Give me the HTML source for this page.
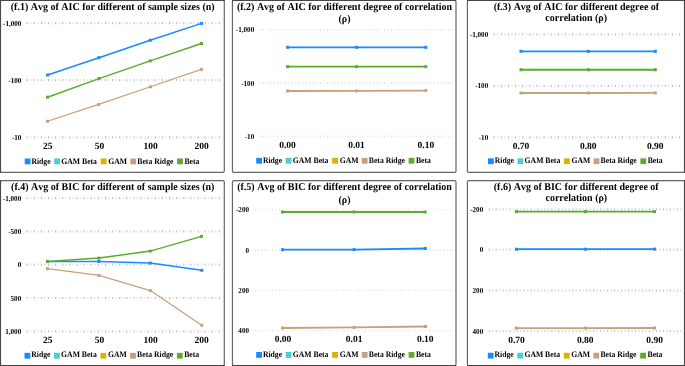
<!DOCTYPE html><html><head><meta charset="utf-8"><style>html,body{margin:0;padding:0;background:#fff;}svg{display:block;will-change:transform;}text{font-family:"Liberation Serif",serif;text-rendering:geometricPrecision;font-kerning:none;}</style></head><body>
<svg width="685" height="366" viewBox="0 0 685 366">
<rect width="685" height="366" fill="#fff"/>
<rect x="0.5" y="0.5" width="223.80" height="171.90" rx="1.3" ry="1.3" fill="#fff" stroke="#666666" stroke-width="1.2"/>
<rect x="232.45" y="0.5" width="223.55" height="171.90" rx="1.3" ry="1.3" fill="#fff" stroke="#666666" stroke-width="1.2"/>
<rect x="467.4" y="0.5" width="217.10" height="171.90" rx="1.3" ry="1.3" fill="#fff" stroke="#666666" stroke-width="1.2"/>
<rect x="0.5" y="180.6" width="223.80" height="184.90" rx="1.3" ry="1.3" fill="#fff" stroke="#666666" stroke-width="1.2"/>
<rect x="232.45" y="180.6" width="223.55" height="184.90" rx="1.3" ry="1.3" fill="#fff" stroke="#666666" stroke-width="1.2"/>
<rect x="467.4" y="180.6" width="217.10" height="184.90" rx="1.3" ry="1.3" fill="#fff" stroke="#666666" stroke-width="1.2"/>
<rect x="0" y="0" width="225" height="1" fill="#464646"/>
<rect x="0" y="365" width="225" height="1" fill="#464646"/>
<rect x="232" y="0" width="224" height="1" fill="#464646"/>
<rect x="232" y="365" width="224" height="1" fill="#464646"/>
<rect x="467" y="0" width="218" height="1" fill="#464646"/>
<rect x="467" y="365" width="218" height="1" fill="#464646"/>
<rect x="0" y="0" width="1" height="173" fill="#4a4a4a"/>
<rect x="0" y="180" width="1" height="186" fill="#4a4a4a"/>
<rect x="684" y="0" width="1" height="173" fill="#4a4a4a"/>
<rect x="684" y="180" width="1" height="186" fill="#4a4a4a"/>
<text transform="translate(112.70,10.30) scale(1,1.05)" font-size="10.0" text-anchor="middle" font-weight="bold" fill="#000">(f.1) Avg of AIC for different of sample sizes (n)</text>
<line x1="26.60" y1="23.2" x2="220" y2="23.2" stroke="#bdbdbd" stroke-width="2.2" stroke-dasharray="1.1 6.020"/>
<line x1="29.80" y1="23.2" x2="220" y2="23.2" stroke="#ebebeb" stroke-width="2.2" stroke-dasharray="1.8 5.320"/>
<line x1="26.60" y1="80.2" x2="220" y2="80.2" stroke="#bdbdbd" stroke-width="2.2" stroke-dasharray="1.1 6.020"/>
<line x1="29.80" y1="80.2" x2="220" y2="80.2" stroke="#ebebeb" stroke-width="2.2" stroke-dasharray="1.8 5.320"/>
<line x1="26.60" y1="137.3" x2="220" y2="137.3" stroke="#bdbdbd" stroke-width="2.2" stroke-dasharray="1.1 6.020"/>
<line x1="29.80" y1="137.3" x2="220" y2="137.3" stroke="#ebebeb" stroke-width="2.2" stroke-dasharray="1.8 5.320"/>
<text transform="translate(21.40,25.75) scale(1,1.07)" font-size="7.1" text-anchor="end" font-weight="bold" fill="#000">-1,000</text>
<text transform="translate(21.40,82.75) scale(1,1.07)" font-size="7.1" text-anchor="end" font-weight="bold" fill="#000">-100</text>
<text transform="translate(21.40,139.85) scale(1,1.07)" font-size="7.1" text-anchor="end" font-weight="bold" fill="#000">-10</text>
<text x="47.85" y="149.40" font-size="9.5" text-anchor="middle" font-weight="bold" fill="#000">25</text>
<text x="99.50" y="149.40" font-size="9.5" text-anchor="middle" font-weight="bold" fill="#000">50</text>
<text x="150.50" y="149.40" font-size="9.5" text-anchor="middle" font-weight="bold" fill="#000">100</text>
<text x="201.50" y="149.40" font-size="9.5" text-anchor="middle" font-weight="bold" fill="#000">200</text>
<polyline points="47.50,121.30 98.70,104.40 150.50,86.80 201.40,69.40" fill="none" stroke="#c9a07c" stroke-width="1.2" stroke-linejoin="round"/>
<rect x="46.00" y="119.80" width="3" height="3" fill="#c9a07c"/>
<rect x="97.20" y="102.90" width="3" height="3" fill="#c9a07c"/>
<rect x="149.00" y="85.30" width="3" height="3" fill="#c9a07c"/>
<rect x="199.90" y="67.90" width="3" height="3" fill="#c9a07c"/>
<polyline points="47.50,97.20 99.00,78.60 150.20,60.90 201.50,43.50" fill="none" stroke="#5aab2e" stroke-width="1.5" stroke-linejoin="round"/>
<rect x="46.00" y="95.70" width="3" height="3" fill="#5aab2e"/>
<rect x="97.50" y="77.10" width="3" height="3" fill="#5aab2e"/>
<rect x="148.70" y="59.40" width="3" height="3" fill="#5aab2e"/>
<rect x="200.00" y="42.00" width="3" height="3" fill="#5aab2e"/>
<polyline points="47.60,75.00 98.90,57.70 150.20,40.30 201.50,23.40" fill="none" stroke="#178bff" stroke-width="1.5" stroke-linejoin="round"/>
<rect x="46.10" y="73.50" width="3" height="3" fill="#178bff"/>
<rect x="97.40" y="56.20" width="3" height="3" fill="#178bff"/>
<rect x="148.70" y="38.80" width="3" height="3" fill="#178bff"/>
<rect x="200.00" y="21.90" width="3" height="3" fill="#178bff"/>
<rect x="24.70" y="158.50" width="5.8" height="5.8" fill="#178bff"/>
<text transform="translate(31.40,163.60) scale(1,1.08)" font-size="7.7" text-anchor="start" font-weight="bold" fill="#000">Ridge</text>
<rect x="54.20" y="158.50" width="5.8" height="5.8" fill="#47ced6"/>
<text transform="translate(61.30,163.60) scale(1,1.08)" font-size="7.7" text-anchor="start" font-weight="bold" fill="#000">GAM Beta</text>
<rect x="100.70" y="158.50" width="5.8" height="5.8" fill="#dab200"/>
<text transform="translate(108.20,163.60) scale(1,1.08)" font-size="7.7" text-anchor="start" font-weight="bold" fill="#000">GAM</text>
<rect x="130.30" y="158.50" width="5.8" height="5.8" fill="#c9a07c"/>
<text transform="translate(137.30,163.60) scale(1,1.08)" font-size="7.7" text-anchor="start" font-weight="bold" fill="#000">Beta Ridge</text>
<rect x="177.10" y="158.50" width="5.8" height="5.8" fill="#5aab2e"/>
<text transform="translate(184.40,163.60) scale(1,1.08)" font-size="7.7" text-anchor="start" font-weight="bold" fill="#000">Beta</text>
<text transform="translate(344.50,10.30) scale(1,1.05)" font-size="10.0" text-anchor="middle" font-weight="bold" fill="#000">(f.2) Avg of AIC for different degree of correlation</text>
<text transform="translate(344.50,22.40) scale(1,1.05)" font-size="10.0" text-anchor="middle" font-weight="bold" fill="#000">(ρ)</text>
<line x1="262.85" y1="29.9" x2="453.5" y2="29.9" stroke="#e0e0e0" stroke-width="1.8" stroke-dasharray="1.1 6.030"/>
<line x1="258.95" y1="29.9" x2="453.5" y2="29.9" stroke="#f1f1f1" stroke-width="1.8" stroke-dasharray="1.8 5.330"/>
<line x1="262.85" y1="83.0" x2="453.5" y2="83.0" stroke="#e0e0e0" stroke-width="1.8" stroke-dasharray="1.1 6.030"/>
<line x1="258.95" y1="83.0" x2="453.5" y2="83.0" stroke="#f1f1f1" stroke-width="1.8" stroke-dasharray="1.8 5.330"/>
<line x1="262.85" y1="136.3" x2="453.5" y2="136.3" stroke="#e0e0e0" stroke-width="1.8" stroke-dasharray="1.1 6.030"/>
<line x1="258.95" y1="136.3" x2="453.5" y2="136.3" stroke="#f1f1f1" stroke-width="1.8" stroke-dasharray="1.8 5.330"/>
<text transform="translate(254.20,32.45) scale(1,1.07)" font-size="7.1" text-anchor="end" font-weight="bold" fill="#000">-1,000</text>
<text transform="translate(254.20,85.55) scale(1,1.07)" font-size="7.1" text-anchor="end" font-weight="bold" fill="#000">-100</text>
<text transform="translate(254.20,138.85) scale(1,1.07)" font-size="7.1" text-anchor="end" font-weight="bold" fill="#000">-10</text>
<text x="287.50" y="147.90" font-size="9.5" text-anchor="middle" font-weight="bold" fill="#000">0.00</text>
<text x="356.50" y="147.90" font-size="9.5" text-anchor="middle" font-weight="bold" fill="#000">0.01</text>
<text x="425.90" y="147.90" font-size="9.5" text-anchor="middle" font-weight="bold" fill="#000">0.10</text>
<polyline points="287.60,91.00 356.60,90.90 425.80,90.60" fill="none" stroke="#c9a07c" stroke-width="1.8" stroke-linejoin="round"/>
<rect x="286.10" y="89.50" width="3" height="3" fill="#c9a07c"/>
<rect x="355.10" y="89.40" width="3" height="3" fill="#c9a07c"/>
<rect x="424.30" y="89.10" width="3" height="3" fill="#c9a07c"/>
<polyline points="287.60,66.70 356.60,66.70 425.80,66.70" fill="none" stroke="#5aab2e" stroke-width="1.8" stroke-linejoin="round"/>
<rect x="286.10" y="65.20" width="3" height="3" fill="#5aab2e"/>
<rect x="355.10" y="65.20" width="3" height="3" fill="#5aab2e"/>
<rect x="424.30" y="65.20" width="3" height="3" fill="#5aab2e"/>
<polyline points="287.60,47.30 356.60,47.30 425.80,47.30" fill="none" stroke="#178bff" stroke-width="1.8" stroke-linejoin="round"/>
<rect x="286.10" y="45.80" width="3" height="3" fill="#178bff"/>
<rect x="355.10" y="45.80" width="3" height="3" fill="#178bff"/>
<rect x="424.30" y="45.80" width="3" height="3" fill="#178bff"/>
<rect x="256.20" y="157.85" width="5.8" height="5.8" fill="#178bff"/>
<text transform="translate(262.90,162.95) scale(1,1.08)" font-size="7.7" text-anchor="start" font-weight="bold" fill="#000">Ridge</text>
<rect x="285.70" y="157.85" width="5.8" height="5.8" fill="#47ced6"/>
<text transform="translate(292.80,162.95) scale(1,1.08)" font-size="7.7" text-anchor="start" font-weight="bold" fill="#000">GAM Beta</text>
<rect x="332.20" y="157.85" width="5.8" height="5.8" fill="#dab200"/>
<text transform="translate(339.70,162.95) scale(1,1.08)" font-size="7.7" text-anchor="start" font-weight="bold" fill="#000">GAM</text>
<rect x="361.80" y="157.85" width="5.8" height="5.8" fill="#c9a07c"/>
<text transform="translate(368.80,162.95) scale(1,1.08)" font-size="7.7" text-anchor="start" font-weight="bold" fill="#000">Beta Ridge</text>
<rect x="408.60" y="157.85" width="5.8" height="5.8" fill="#5aab2e"/>
<text transform="translate(415.90,162.95) scale(1,1.08)" font-size="7.7" text-anchor="start" font-weight="bold" fill="#000">Beta</text>
<text transform="translate(576.40,10.00) scale(1,1.05)" font-size="10.0" text-anchor="middle" font-weight="bold" fill="#000">(f.3) Avg of AIC for different degree of</text>
<text transform="translate(576.20,21.20) scale(1,1.05)" font-size="10.0" text-anchor="middle" font-weight="bold" fill="#000">correlation (ρ)</text>
<line x1="493.65" y1="34.3" x2="680.2" y2="34.3" stroke="#bdbdbd" stroke-width="2.2" stroke-dasharray="1.1 6.030"/>
<line x1="496.87" y1="34.3" x2="680.2" y2="34.3" stroke="#ebebeb" stroke-width="2.2" stroke-dasharray="1.8 5.330"/>
<line x1="493.65" y1="85.8" x2="680.2" y2="85.8" stroke="#bdbdbd" stroke-width="2.2" stroke-dasharray="1.1 6.030"/>
<line x1="496.87" y1="85.8" x2="680.2" y2="85.8" stroke="#ebebeb" stroke-width="2.2" stroke-dasharray="1.8 5.330"/>
<line x1="493.65" y1="137.4" x2="680.2" y2="137.4" stroke="#bdbdbd" stroke-width="2.2" stroke-dasharray="1.1 6.030"/>
<line x1="496.87" y1="137.4" x2="680.2" y2="137.4" stroke="#ebebeb" stroke-width="2.2" stroke-dasharray="1.8 5.330"/>
<text transform="translate(488.20,36.65) scale(1,1.07)" font-size="7.1" text-anchor="end" font-weight="bold" fill="#000">-1,000</text>
<text transform="translate(488.20,88.25) scale(1,1.07)" font-size="7.1" text-anchor="end" font-weight="bold" fill="#000">-100</text>
<text transform="translate(488.20,139.85) scale(1,1.07)" font-size="7.1" text-anchor="end" font-weight="bold" fill="#000">-10</text>
<text x="521.00" y="148.90" font-size="9.5" text-anchor="middle" font-weight="bold" fill="#000">0.70</text>
<text x="588.20" y="148.90" font-size="9.5" text-anchor="middle" font-weight="bold" fill="#000">0.80</text>
<text x="655.30" y="148.90" font-size="9.5" text-anchor="middle" font-weight="bold" fill="#000">0.90</text>
<polyline points="521.00,93.00 588.40,93.00 655.30,92.90" fill="none" stroke="#c9a07c" stroke-width="1.8" stroke-linejoin="round"/>
<rect x="519.50" y="91.50" width="3" height="3" fill="#c9a07c"/>
<rect x="586.90" y="91.50" width="3" height="3" fill="#c9a07c"/>
<rect x="653.80" y="91.40" width="3" height="3" fill="#c9a07c"/>
<polyline points="521.00,69.75 588.40,69.75 655.30,69.75" fill="none" stroke="#5aab2e" stroke-width="1.8" stroke-linejoin="round"/>
<rect x="519.50" y="68.25" width="3" height="3" fill="#5aab2e"/>
<rect x="586.90" y="68.25" width="3" height="3" fill="#5aab2e"/>
<rect x="653.80" y="68.25" width="3" height="3" fill="#5aab2e"/>
<polyline points="521.00,51.30 588.40,51.30 655.30,51.30" fill="none" stroke="#178bff" stroke-width="1.8" stroke-linejoin="round"/>
<rect x="519.50" y="49.80" width="3" height="3" fill="#178bff"/>
<rect x="586.90" y="49.80" width="3" height="3" fill="#178bff"/>
<rect x="653.80" y="49.80" width="3" height="3" fill="#178bff"/>
<rect x="488.00" y="158.35" width="5.8" height="5.8" fill="#178bff"/>
<text transform="translate(494.70,163.45) scale(1,1.08)" font-size="7.7" text-anchor="start" font-weight="bold" fill="#000">Ridge</text>
<rect x="517.50" y="158.35" width="5.8" height="5.8" fill="#47ced6"/>
<text transform="translate(524.60,163.45) scale(1,1.08)" font-size="7.7" text-anchor="start" font-weight="bold" fill="#000">GAM Beta</text>
<rect x="564.00" y="158.35" width="5.8" height="5.8" fill="#dab200"/>
<text transform="translate(571.50,163.45) scale(1,1.08)" font-size="7.7" text-anchor="start" font-weight="bold" fill="#000">GAM</text>
<rect x="593.60" y="158.35" width="5.8" height="5.8" fill="#c9a07c"/>
<text transform="translate(600.60,163.45) scale(1,1.08)" font-size="7.7" text-anchor="start" font-weight="bold" fill="#000">Beta Ridge</text>
<rect x="640.40" y="158.35" width="5.8" height="5.8" fill="#5aab2e"/>
<text transform="translate(647.70,163.45) scale(1,1.08)" font-size="7.7" text-anchor="start" font-weight="bold" fill="#000">Beta</text>
<text transform="translate(112.70,189.60) scale(1,1.05)" font-size="10.0" text-anchor="middle" font-weight="bold" fill="#000">(f.4) Avg of BIC for different of sample sizes (n)</text>
<line x1="26.60" y1="198.1" x2="220" y2="198.1" stroke="#bdbdbd" stroke-width="2.2" stroke-dasharray="1.1 6.020"/>
<line x1="29.80" y1="198.1" x2="220" y2="198.1" stroke="#ebebeb" stroke-width="2.2" stroke-dasharray="1.8 5.320"/>
<line x1="26.60" y1="231.4" x2="220" y2="231.4" stroke="#bdbdbd" stroke-width="2.2" stroke-dasharray="1.1 6.020"/>
<line x1="29.80" y1="231.4" x2="220" y2="231.4" stroke="#ebebeb" stroke-width="2.2" stroke-dasharray="1.8 5.320"/>
<line x1="26.60" y1="264.7" x2="220" y2="264.7" stroke="#bdbdbd" stroke-width="2.2" stroke-dasharray="1.1 6.020"/>
<line x1="29.80" y1="264.7" x2="220" y2="264.7" stroke="#ebebeb" stroke-width="2.2" stroke-dasharray="1.8 5.320"/>
<line x1="26.60" y1="298.0" x2="220" y2="298.0" stroke="#bdbdbd" stroke-width="2.2" stroke-dasharray="1.1 6.020"/>
<line x1="29.80" y1="298.0" x2="220" y2="298.0" stroke="#ebebeb" stroke-width="2.2" stroke-dasharray="1.8 5.320"/>
<line x1="26.60" y1="331.3" x2="220" y2="331.3" stroke="#bdbdbd" stroke-width="2.2" stroke-dasharray="1.1 6.020"/>
<line x1="29.80" y1="331.3" x2="220" y2="331.3" stroke="#ebebeb" stroke-width="2.2" stroke-dasharray="1.8 5.320"/>
<text transform="translate(21.20,200.65) scale(1,1.07)" font-size="7.1" text-anchor="end" font-weight="bold" fill="#000">-1,000</text>
<text transform="translate(21.20,233.95) scale(1,1.07)" font-size="7.1" text-anchor="end" font-weight="bold" fill="#000">-500</text>
<text transform="translate(21.20,267.25) scale(1,1.07)" font-size="7.1" text-anchor="end" font-weight="bold" fill="#000">0</text>
<text transform="translate(21.20,300.55) scale(1,1.07)" font-size="7.1" text-anchor="end" font-weight="bold" fill="#000">500</text>
<text transform="translate(21.20,333.85) scale(1,1.07)" font-size="7.1" text-anchor="end" font-weight="bold" fill="#000">1,000</text>
<text x="47.85" y="342.70" font-size="9.5" text-anchor="middle" font-weight="bold" fill="#000">25</text>
<text x="99.50" y="342.70" font-size="9.5" text-anchor="middle" font-weight="bold" fill="#000">50</text>
<text x="150.50" y="342.70" font-size="9.5" text-anchor="middle" font-weight="bold" fill="#000">100</text>
<text x="201.50" y="342.70" font-size="9.5" text-anchor="middle" font-weight="bold" fill="#000">200</text>
<polyline points="47.50,268.70 98.90,275.40 150.40,290.60 201.80,325.20" fill="none" stroke="#c9a07c" stroke-width="1.2" stroke-linejoin="round"/>
<rect x="46.00" y="267.20" width="3" height="3" fill="#c9a07c"/>
<rect x="97.40" y="273.90" width="3" height="3" fill="#c9a07c"/>
<rect x="148.90" y="289.10" width="3" height="3" fill="#c9a07c"/>
<rect x="200.30" y="323.70" width="3" height="3" fill="#c9a07c"/>
<polyline points="47.50,261.40 98.90,261.40 150.30,263.10 201.80,270.30" fill="none" stroke="#178bff" stroke-width="1.5" stroke-linejoin="round"/>
<rect x="46.00" y="259.90" width="3" height="3" fill="#178bff"/>
<rect x="97.40" y="259.90" width="3" height="3" fill="#178bff"/>
<rect x="148.80" y="261.60" width="3" height="3" fill="#178bff"/>
<rect x="200.30" y="268.80" width="3" height="3" fill="#178bff"/>
<polyline points="47.50,261.40 98.90,258.10 150.20,251.10 201.50,236.40" fill="none" stroke="#5aab2e" stroke-width="1.5" stroke-linejoin="round"/>
<rect x="46.00" y="259.90" width="3" height="3" fill="#5aab2e"/>
<rect x="97.40" y="256.60" width="3" height="3" fill="#5aab2e"/>
<rect x="148.70" y="249.60" width="3" height="3" fill="#5aab2e"/>
<rect x="200.00" y="234.90" width="3" height="3" fill="#5aab2e"/>
<rect x="24.50" y="352.85" width="5.8" height="5.8" fill="#178bff"/>
<text transform="translate(31.20,357.05) scale(1,1.08)" font-size="7.7" text-anchor="start" font-weight="bold" fill="#000">Ridge</text>
<rect x="54.00" y="352.85" width="5.8" height="5.8" fill="#47ced6"/>
<text transform="translate(61.10,357.05) scale(1,1.08)" font-size="7.7" text-anchor="start" font-weight="bold" fill="#000">GAM Beta</text>
<rect x="100.50" y="352.85" width="5.8" height="5.8" fill="#dab200"/>
<text transform="translate(108.00,357.05) scale(1,1.08)" font-size="7.7" text-anchor="start" font-weight="bold" fill="#000">GAM</text>
<rect x="130.10" y="352.85" width="5.8" height="5.8" fill="#c9a07c"/>
<text transform="translate(137.10,357.05) scale(1,1.08)" font-size="7.7" text-anchor="start" font-weight="bold" fill="#000">Beta Ridge</text>
<rect x="176.90" y="352.85" width="5.8" height="5.8" fill="#5aab2e"/>
<text transform="translate(184.20,357.05) scale(1,1.08)" font-size="7.7" text-anchor="start" font-weight="bold" fill="#000">Beta</text>
<text transform="translate(344.50,190.40) scale(1,1.05)" font-size="10.0" text-anchor="middle" font-weight="bold" fill="#000">(f.5) Avg of BIC for different degree of correlation</text>
<text transform="translate(344.50,202.60) scale(1,1.05)" font-size="10.0" text-anchor="middle" font-weight="bold" fill="#000">(ρ)</text>
<line x1="257.85" y1="209.7" x2="454" y2="209.7" stroke="#e0e0e0" stroke-width="1.8" stroke-dasharray="1.1 6.030"/>
<line x1="253.95" y1="209.7" x2="454" y2="209.7" stroke="#f1f1f1" stroke-width="1.8" stroke-dasharray="1.8 5.330"/>
<line x1="257.85" y1="250.0" x2="454" y2="250.0" stroke="#e0e0e0" stroke-width="1.8" stroke-dasharray="1.1 6.030"/>
<line x1="253.95" y1="250.0" x2="454" y2="250.0" stroke="#f1f1f1" stroke-width="1.8" stroke-dasharray="1.8 5.330"/>
<line x1="257.85" y1="290.3" x2="454" y2="290.3" stroke="#e0e0e0" stroke-width="1.8" stroke-dasharray="1.1 6.030"/>
<line x1="253.95" y1="290.3" x2="454" y2="290.3" stroke="#f1f1f1" stroke-width="1.8" stroke-dasharray="1.8 5.330"/>
<line x1="257.85" y1="330.6" x2="454" y2="330.6" stroke="#e0e0e0" stroke-width="1.8" stroke-dasharray="1.1 6.030"/>
<line x1="253.95" y1="330.6" x2="454" y2="330.6" stroke="#f1f1f1" stroke-width="1.8" stroke-dasharray="1.8 5.330"/>
<text transform="translate(249.00,212.25) scale(1,1.07)" font-size="7.1" text-anchor="end" font-weight="bold" fill="#000">-200</text>
<text transform="translate(249.00,252.55) scale(1,1.07)" font-size="7.1" text-anchor="end" font-weight="bold" fill="#000">0</text>
<text transform="translate(249.00,292.85) scale(1,1.07)" font-size="7.1" text-anchor="end" font-weight="bold" fill="#000">200</text>
<text transform="translate(249.00,333.15) scale(1,1.07)" font-size="7.1" text-anchor="end" font-weight="bold" fill="#000">400</text>
<text x="283.00" y="342.40" font-size="9.5" text-anchor="middle" font-weight="bold" fill="#000">0.00</text>
<text x="354.10" y="342.40" font-size="9.5" text-anchor="middle" font-weight="bold" fill="#000">0.01</text>
<text x="425.20" y="342.40" font-size="9.5" text-anchor="middle" font-weight="bold" fill="#000">0.10</text>
<polyline points="282.50,328.00 354.10,327.40 425.50,326.50" fill="none" stroke="#c9a07c" stroke-width="1.8" stroke-linejoin="round"/>
<rect x="281.00" y="326.50" width="3" height="3" fill="#c9a07c"/>
<rect x="352.60" y="325.90" width="3" height="3" fill="#c9a07c"/>
<rect x="424.00" y="325.00" width="3" height="3" fill="#c9a07c"/>
<polyline points="282.50,249.70 354.10,249.60 425.30,248.50" fill="none" stroke="#178bff" stroke-width="1.8" stroke-linejoin="round"/>
<rect x="281.00" y="248.20" width="3" height="3" fill="#178bff"/>
<rect x="352.60" y="248.10" width="3" height="3" fill="#178bff"/>
<rect x="423.80" y="247.00" width="3" height="3" fill="#178bff"/>
<polyline points="282.50,212.00 354.10,212.00 425.10,212.00" fill="none" stroke="#5aab2e" stroke-width="1.8" stroke-linejoin="round"/>
<rect x="281.00" y="210.50" width="3" height="3" fill="#5aab2e"/>
<rect x="352.60" y="210.50" width="3" height="3" fill="#5aab2e"/>
<rect x="423.60" y="210.50" width="3" height="3" fill="#5aab2e"/>
<rect x="256.20" y="352.00" width="5.8" height="5.8" fill="#178bff"/>
<text transform="translate(262.90,356.50) scale(1,1.08)" font-size="7.7" text-anchor="start" font-weight="bold" fill="#000">Ridge</text>
<rect x="285.70" y="352.00" width="5.8" height="5.8" fill="#47ced6"/>
<text transform="translate(292.80,356.50) scale(1,1.08)" font-size="7.7" text-anchor="start" font-weight="bold" fill="#000">GAM Beta</text>
<rect x="332.20" y="352.00" width="5.8" height="5.8" fill="#dab200"/>
<text transform="translate(339.70,356.50) scale(1,1.08)" font-size="7.7" text-anchor="start" font-weight="bold" fill="#000">GAM</text>
<rect x="361.80" y="352.00" width="5.8" height="5.8" fill="#c9a07c"/>
<text transform="translate(368.80,356.50) scale(1,1.08)" font-size="7.7" text-anchor="start" font-weight="bold" fill="#000">Beta Ridge</text>
<rect x="408.60" y="352.00" width="5.8" height="5.8" fill="#5aab2e"/>
<text transform="translate(415.90,356.50) scale(1,1.08)" font-size="7.7" text-anchor="start" font-weight="bold" fill="#000">Beta</text>
<text transform="translate(576.20,190.00) scale(1,1.05)" font-size="10.0" text-anchor="middle" font-weight="bold" fill="#000">(f.6) Avg of BIC for different degree of</text>
<text transform="translate(576.30,201.40) scale(1,1.05)" font-size="10.0" text-anchor="middle" font-weight="bold" fill="#000">correlation (ρ)</text>
<line x1="488.65" y1="209.3" x2="681.6" y2="209.3" stroke="#c6c6c6" stroke-width="2.2" stroke-dasharray="1.1 5.868"/>
<line x1="491.98" y1="209.3" x2="681.6" y2="209.3" stroke="#dedede" stroke-width="2.2" stroke-dasharray="1.4 5.568"/>
<line x1="488.65" y1="249.7" x2="681.6" y2="249.7" stroke="#c6c6c6" stroke-width="2.2" stroke-dasharray="1.1 5.868"/>
<line x1="491.98" y1="249.7" x2="681.6" y2="249.7" stroke="#dedede" stroke-width="2.2" stroke-dasharray="1.4 5.568"/>
<line x1="488.65" y1="290.6" x2="681.6" y2="290.6" stroke="#c6c6c6" stroke-width="2.2" stroke-dasharray="1.1 5.868"/>
<line x1="491.98" y1="290.6" x2="681.6" y2="290.6" stroke="#dedede" stroke-width="2.2" stroke-dasharray="1.4 5.568"/>
<line x1="488.65" y1="331.2" x2="681.6" y2="331.2" stroke="#c6c6c6" stroke-width="2.2" stroke-dasharray="1.1 5.868"/>
<line x1="491.98" y1="331.2" x2="681.6" y2="331.2" stroke="#dedede" stroke-width="2.2" stroke-dasharray="1.4 5.568"/>
<text transform="translate(483.20,211.85) scale(1,1.07)" font-size="7.1" text-anchor="end" font-weight="bold" fill="#000">-200</text>
<text transform="translate(483.20,252.25) scale(1,1.07)" font-size="7.1" text-anchor="end" font-weight="bold" fill="#000">0</text>
<text transform="translate(483.20,293.15) scale(1,1.07)" font-size="7.1" text-anchor="end" font-weight="bold" fill="#000">200</text>
<text transform="translate(483.20,333.75) scale(1,1.07)" font-size="7.1" text-anchor="end" font-weight="bold" fill="#000">400</text>
<text x="516.50" y="343.00" font-size="9.5" text-anchor="middle" font-weight="bold" fill="#000">0.70</text>
<text x="585.30" y="343.00" font-size="9.5" text-anchor="middle" font-weight="bold" fill="#000">0.80</text>
<text x="654.60" y="343.00" font-size="9.5" text-anchor="middle" font-weight="bold" fill="#000">0.90</text>
<polyline points="516.30,328.10 585.50,328.10 654.50,328.00" fill="none" stroke="#c9a07c" stroke-width="1.8" stroke-linejoin="round"/>
<rect x="514.80" y="326.60" width="3" height="3" fill="#c9a07c"/>
<rect x="584.00" y="326.60" width="3" height="3" fill="#c9a07c"/>
<rect x="653.00" y="326.50" width="3" height="3" fill="#c9a07c"/>
<polyline points="516.50,249.20 585.50,249.20 654.50,249.10" fill="none" stroke="#178bff" stroke-width="1.8" stroke-linejoin="round"/>
<rect x="515.00" y="247.70" width="3" height="3" fill="#178bff"/>
<rect x="584.00" y="247.70" width="3" height="3" fill="#178bff"/>
<rect x="653.00" y="247.60" width="3" height="3" fill="#178bff"/>
<polyline points="516.50,211.60 585.50,211.60 654.50,211.60" fill="none" stroke="#5aab2e" stroke-width="1.8" stroke-linejoin="round"/>
<rect x="515.00" y="210.10" width="3" height="3" fill="#5aab2e"/>
<rect x="584.00" y="210.10" width="3" height="3" fill="#5aab2e"/>
<rect x="653.00" y="210.10" width="3" height="3" fill="#5aab2e"/>
<rect x="487.80" y="352.75" width="5.8" height="5.8" fill="#178bff"/>
<text transform="translate(494.50,357.00) scale(1,1.08)" font-size="7.7" text-anchor="start" font-weight="bold" fill="#000">Ridge</text>
<rect x="517.30" y="352.75" width="5.8" height="5.8" fill="#47ced6"/>
<text transform="translate(524.40,357.00) scale(1,1.08)" font-size="7.7" text-anchor="start" font-weight="bold" fill="#000">GAM Beta</text>
<rect x="563.80" y="352.75" width="5.8" height="5.8" fill="#dab200"/>
<text transform="translate(571.30,357.00) scale(1,1.08)" font-size="7.7" text-anchor="start" font-weight="bold" fill="#000">GAM</text>
<rect x="593.40" y="352.75" width="5.8" height="5.8" fill="#c9a07c"/>
<text transform="translate(600.40,357.00) scale(1,1.08)" font-size="7.7" text-anchor="start" font-weight="bold" fill="#000">Beta Ridge</text>
<rect x="640.20" y="352.75" width="5.8" height="5.8" fill="#5aab2e"/>
<text transform="translate(647.50,357.00) scale(1,1.08)" font-size="7.7" text-anchor="start" font-weight="bold" fill="#000">Beta</text>
</svg></body></html>
